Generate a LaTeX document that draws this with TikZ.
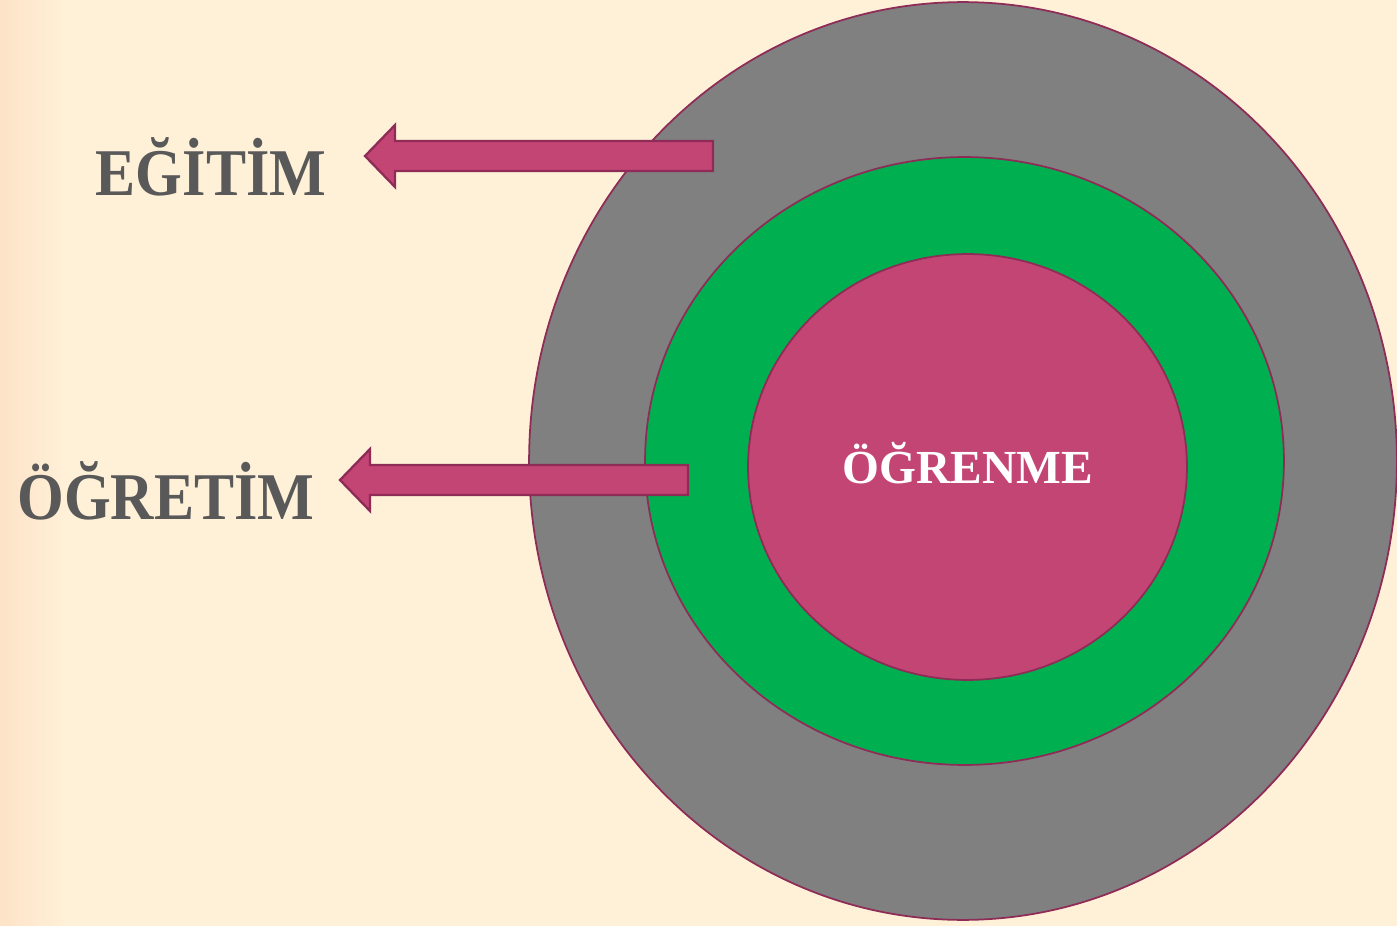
\documentclass[tikz,border=0pt]{standalone}
\usepackage{fontspec}
\setmainfont{Liberation Serif}
\usepackage{graphicx}
\usepackage{xcolor}
\usetikzlibrary{shapes.geometric}
\definecolor{cream}{HTML}{FFF1D8}
\definecolor{peach}{HTML}{FDE3C8}
\definecolor{ringgray}{HTML}{808080}
\definecolor{ringgreen}{HTML}{00B050}
\definecolor{berry}{HTML}{C34574}
\definecolor{berryline}{HTML}{8E2B57}
\definecolor{labelgray}{HTML}{595959}
\newcommand{\squeezed}[1]{\scalebox{0.9}[1]{#1}}
\tikzset{
    ring/.style = {draw=berryline, line width=1pt, ellipse, inner sep=0pt},
    block-arrow/.style = {draw=berryline, fill=berry, line width=1.3pt, line join=miter},
    side-label/.style = {text=labelgray, font=\bfseries\fontsize{38}{42}\selectfont, anchor=base, inner sep=0pt},
    core-label/.style = {text=white, font=\bfseries\fontsize{27}{30}\selectfont, anchor=base, inner sep=0pt},
}

\begin{document}
\begin{tikzpicture}[x=0.02cm, y=-0.02cm]
% background
\fill[cream] (0,0) rectangle (1397,926);
\shade[left color=peach, right color=cream] (0,0) rectangle (70,926);
\useasboundingbox (0,0) rectangle (1397,926);

% nested rings
\node [ring, fill=ringgray, minimum width=17.36cm, minimum height=18.36cm] (outer) at (963,461) {};
\node [ring, fill=ringgreen, minimum width=12.78cm, minimum height=12.16cm] (middle) at (964.5,461) {};
\node [ring, fill=berry, minimum width=8.78cm, minimum height=8.52cm] (core) at (967.5,467) {};
\node [core-label] (learn) at (968,483) {ÖĞRENME};

% arrows out to the labels
\draw [block-arrow] (713,141) -- (395,141) -- (395,125) -- (365,156) -- (395,187) -- (395,171) -- (713,171) -- cycle;
\draw [block-arrow] (688,465) -- (370,465) -- (370,449) -- (340,480) -- (370,511) -- (370,495) -- (688,495) -- cycle;

\node [side-label] (egitim) at (211,195) {\squeezed{EĞİTİM}};
\node [side-label] (ogretim) at (166,519) {\squeezed{ÖĞRETİM}};
\end{tikzpicture}
\end{document}
